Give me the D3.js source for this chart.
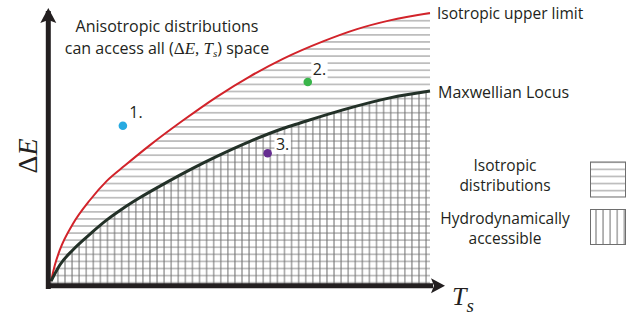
<!DOCTYPE html>
<html>
<head>
<meta charset="utf-8">
<script src="https://cdn.jsdelivr.net/npm/d3@7"></script>
<style>
  body { margin: 0; background: #fff; }
  text { font-family: "Open Sans", sans-serif; fill: #231f20; }
  .math { font-family: "Liberation Serif", serif; }
</style>
</head>
<body>
<div id="chart"></div>
<script>
// curves, arbitrary units (0-10 on both axes)
var upperTs = [0.08, 0.18, 0.31, 0.65, 1.10, 1.54, 2.02, 2.67, 3.53, 4.42, 5.29, 6.15, 7.20, 8.09, 8.95, 10.0];
var upperE  = [0.18, 0.77, 1.32, 2.27, 3.15, 3.85, 4.42, 5.16, 6.06, 6.93, 7.68, 8.32, 8.96, 9.41, 9.73, 10.0];

var maxwTs = [0.08, 0.31, 0.65, 1.10, 1.54, 1.96, 2.41, 2.93, 3.80, 4.42, 5.29, 6.15, 6.60, 7.72, 8.95, 10.0];
var maxwE  = [0.18, 0.77, 1.32, 1.90, 2.42, 2.84, 3.24, 3.66, 4.32, 4.75, 5.30, 5.77, 5.97, 6.45, 6.89, 7.14];

// example distributions
var pointNames = ["1.", "2.", "3."];
var pointTs = [1.96, 6.80, 5.75];
var pointE  = [5.87, 7.47, 4.86];

var svgWidth = 643, svgHeight = 318;
var ink = "#231f20";
var dotColors = ["#27aae1", "#39b54a", "#662d91"];

var svg = d3.select("#chart").append("svg")
    .attr("width", svgWidth)
    .attr("height", svgHeight);

var x = d3.scaleLinear().domain([0, 10]).range([48, 430]);
var y = d3.scaleLinear().domain([0, 10]).range([286, 13]);

var upper = upperTs.map((t, i) => ({ t: t, e: upperE[i] }));
var maxw = maxwTs.map((t, i) => ({ t: t, e: maxwE[i] }));

var line = d3.line()
    .x(d => x(d.t))
    .y(d => y(d.e))
    .curve(d3.curveMonotoneX);

var area = d3.area()
    .x(d => x(d.t))
    .y0(y(0))
    .y1(d => y(d.e))
    .curve(d3.curveMonotoneX);

// hatch patterns
var defs = svg.append("defs");
var step = 7.08;

var hpat = defs.append("pattern")
    .attr("id", "hpat")
    .attr("patternUnits", "userSpaceOnUse")
    .attr("x", 0).attr("y", 20.7 - step / 2)
    .attr("width", 20).attr("height", step);
hpat.append("line")
    .attr("x1", 0).attr("x2", 20)
    .attr("y1", step / 2).attr("y2", step / 2)
    .attr("stroke", "#8c8c8c").attr("stroke-width", 1);

var vpat = defs.append("pattern")
    .attr("id", "vpat")
    .attr("patternUnits", "userSpaceOnUse")
    .attr("x", 65 - step / 2).attr("y", 0)
    .attr("width", step).attr("height", 20);
vpat.append("line")
    .attr("y1", 0).attr("y2", 20)
    .attr("x1", step / 2).attr("x2", step / 2)
    .attr("stroke", "#6e6e6e").attr("stroke-width", 1);

defs.append("clipPath").attr("id", "clipUpper")
    .append("path").attr("d", area(upper));
defs.append("clipPath").attr("id", "clipMaxw")
    .append("path").attr("d", area(maxw));

svg.append("rect")
    .attr("x", x(0)).attr("y", y(10))
    .attr("width", x(10) - x(0)).attr("height", y(0) - y(10))
    .attr("fill", "url(#hpat)")
    .attr("clip-path", "url(#clipUpper)");

svg.append("rect")
    .attr("x", x(0)).attr("y", y(10))
    .attr("width", x(10) - x(0)).attr("height", y(0) - y(10))
    .attr("fill", "url(#vpat)")
    .attr("clip-path", "url(#clipMaxw)");

// curves
svg.append("path")
    .attr("d", line(upper))
    .attr("fill", "none")
    .attr("stroke", "#d2232a")
    .attr("stroke-width", 2);

svg.append("path")
    .attr("d", line(maxw))
    .attr("fill", "none")
    .attr("stroke", "#233128")
    .attr("stroke-width", 3);

// axes, no ticks, just thick arrows
svg.append("g")
    .attr("transform", "translate(0,285.3)")
    .call(d3.axisBottom(x).tickValues([]).tickSizeOuter(0));
svg.append("g")
    .attr("transform", "translate(47.8,0)")
    .call(d3.axisLeft(y).tickValues([]).tickSizeOuter(0));

svg.selectAll(".domain")
    .attr("stroke", ink)
    .attr("stroke-width", 5)
    .attr("stroke-linecap", "square");

var ax = 48.3, ay = 285.8;
svg.append("path")
    .attr("d", `M${ax},${y(10) - 5} L${ax + 8},${y(10) + 10} L${ax},${y(10) + 7} L${ax - 8},${y(10) + 10} Z`)
    .attr("fill", ink);
svg.append("path")
    .attr("d", `M${x(10) + 15},${ay} L${x(10) + 1},${ay - 7.5} L${x(10) + 4},${ay} L${x(10) + 1},${ay + 7.5} Z`)
    .attr("fill", ink);

// axis titles
var yLab = svg.append("text")
    .attr("class", "math")
    .attr("transform", "translate(37,156) rotate(-90)")
    .attr("text-anchor", "middle")
    .attr("font-size", 28);
yLab.append("tspan").text("Δ");
yLab.append("tspan").attr("font-style", "italic").text("E");

var xLab = svg.append("text")
    .attr("class", "math")
    .attr("x", 452).attr("y", 305)
    .attr("font-size", 26)
    .attr("font-style", "italic");
xLab.append("tspan").text("T");
xLab.append("tspan").attr("font-size", 19).attr("dy", 7).text("s");

// curve labels
svg.append("text").attr("x", 437).attr("y", 19).attr("font-size", 15.5).text("Isotropic upper limit");
svg.append("text").attr("x", 438).attr("y", 98).attr("font-size", 16).text("Maxwellian Locus");

// annotation
svg.append("text").attr("x", 167).attr("y", 32).attr("text-anchor", "middle")
    .attr("font-size", 16).text("Anisotropic distributions");
var note = svg.append("text").attr("x", 167).attr("y", 54).attr("text-anchor", "middle")
    .attr("font-size", 16);
note.append("tspan").text("can access all (");
note.append("tspan").attr("class", "math").attr("font-size", 17).text("Δ");
note.append("tspan").attr("class", "math").attr("font-size", 17).attr("font-style", "italic").text("E");
note.append("tspan").attr("class", "math").attr("font-size", 17).text(", ");
note.append("tspan").attr("class", "math").attr("font-size", 17).attr("font-style", "italic").text("T");
note.append("tspan").attr("class", "math").attr("font-size", 11).attr("font-style", "italic").attr("dy", 3).text("s");
note.append("tspan").attr("dy", -3).text(") space");

// example points
var labOff = [[6.5, -7.7], [5, -7], [8.3, -3.3]];
var pts = svg.selectAll(".pt")
    .data(pointNames.map((n, i) => ({ n: n, t: pointTs[i], e: pointE[i], i: i })))
    .join("g")
    .attr("class", "pt");

pts.append("circle")
    .attr("cx", d => x(d.t))
    .attr("cy", d => y(d.e))
    .attr("r", 4.3)
    .attr("fill", d => dotColors[d.i]);

pts.each(function(d) {
    var g = d3.select(this);
    var bg = g.append("rect").attr("fill", "#fff");
    var t = g.append("text")
        .attr("x", x(d.t) + labOff[d.i][0])
        .attr("y", y(d.e) + labOff[d.i][1])
        .attr("font-size", 16)
        .text(d.n);
    var b = t.node().getBBox();
    bg.attr("x", b.x - 1.5).attr("y", b.y + 2).attr("width", b.width + 3).attr("height", b.height - 3);
});

// legend
var legText = [["Isotropic", "distributions"], ["Hydrodynamically", "accessible"]];
var legFill = ["url(#hpat)", "url(#vpat)"];
var legY = [171, 223.5];
var legBoxY = [162, 209.5];

legText.forEach((lines, i) => {
    lines.forEach((s, j) => {
        svg.append("text")
            .attr("x", 505).attr("y", legY[i] + j * 20)
            .attr("text-anchor", "middle")
            .attr("font-size", 15.5)
            .text(s);
    });
    svg.append("rect")
        .attr("x", 590.5).attr("y", legBoxY[i])
        .attr("width", 35).attr("height", 35)
        .attr("fill", legFill[i])
        .attr("stroke", "#6e6e6e")
        .attr("stroke-width", 1);
});
</script>
</body>
</html>
